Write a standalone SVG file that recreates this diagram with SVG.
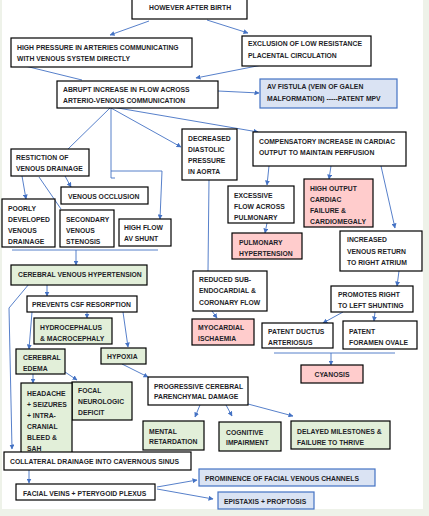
<svg xmlns="http://www.w3.org/2000/svg" width="429" height="516" viewBox="0 0 429 516">
<defs>
<marker id="ah" viewBox="0 0 10 10" refX="9" refY="5" markerWidth="5" markerHeight="5" markerUnits="userSpaceOnUse" orient="auto">
<path d="M0,0 L10,5 L0,10 z" fill="#4472c4"/>
</marker>
<style>
text{font-family:"Liberation Sans",Arial,sans-serif;font-size:6.8px;font-weight:bold;fill:#1e1e28}
.w{fill:#ffffff;stroke:#000;stroke-width:1.2}
.g{fill:#e2efd9;stroke:#000;stroke-width:1.2}
.p{fill:#ffcccc;stroke:#000;stroke-width:1.2}
.b{fill:#dae3f3;stroke:#4472c4;stroke-width:1.2}
.c{fill:none;stroke:#4472c4;stroke-width:0.9}
.a{marker-end:url(#ah)}
</style>
</defs>
<rect x="0" y="0" width="429" height="516" fill="#eef2e9"/>
<rect x="2" y="0" width="421" height="509" fill="#ffffff"/>

<g id="connectors">
<path class="c a" d="M149,21 L110,35"/>
<path class="c a" d="M207,20 L248,33"/>
<path class="c" d="M21,65 L82,80"/>
<path class="c a" d="M262,65 L196,78"/>
<path class="c a" d="M218,91 L259,93"/>
<path class="c" d="M110,108 L68,149"/>
<path class="c" d="M111,108 L111,178 L115,178"/>
<path class="c a" d="M111,171 L162,171 L160,219"/>
<path class="c a" d="M111,108 L181,147"/>
<path class="c a" d="M112,107 L258,132"/>
<path class="c a" d="M22,176 L26,199"/>
<path class="c a" d="M65,176 L71,187"/>
<path class="c" d="M39,177 L61,209"/>
<path class="c" d="M12,250 L158,250"/>
<path class="c a" d="M76,250 L76,265"/>
<path class="c" d="M209,180 L208,271"/>
<path class="c a" d="M212,311 L217,318"/>
<path class="c a" d="M269,166 L267,185"/>
<path class="c a" d="M331,166 L329,179"/>
<path class="c a" d="M381,166 L395,228"/>
<path class="c a" d="M267,223 L265,233"/>
<path class="c a" d="M399,271 L397,286"/>
<path class="c a" d="M343,312 L323,323"/>
<path class="c a" d="M375,312 L374,321"/>
<path class="c" d="M274,353 L395,353"/>
<path class="c a" d="M331,353 L331,365"/>
<path class="c a" d="M29,284 L9,308 L12,449"/>
<path class="c a" d="M47,285 L47,296"/>
<path class="c a" d="M87,312 L87,318"/>
<path class="c a" d="M32,312 L29,349"/>
<path class="c a" d="M123,312 L128,347"/>
<path class="c a" d="M122,364 L148,377"/>
<path class="c a" d="M33,374 L33,383"/>
<path class="c a" d="M65,372 L77,380"/>
<path class="c a" d="M200,405 L195,417"/>
<path class="c a" d="M226,405 L232,416"/>
<path class="c a" d="M248,404 L293,416"/>
<path class="c a" d="M29,470 L29,483"/>
<path class="c a" d="M157,487 L197,480"/>
<path class="c a" d="M157,489 L213,499"/>
</g>

<g id="n1"><rect class="w" x="132" y="-1" width="115" height="20"/><text x="149" y="9.5">HOWEVER AFTER BIRTH</text></g>
<g id="n2"><rect class="w" x="11" y="38" width="181" height="29"/><text x="17" y="49.5">HIGH PRESSURE IN ARTERIES COMMUNICATING</text><text x="17" y="60.5">WITH VENOUS SYSTEM DIRECTLY</text></g>
<g id="n3"><rect class="w" x="242" y="36" width="129" height="30"/><text x="248" y="46">EXCLUSION OF LOW RESISTANCE</text><text x="248" y="58">PLACENTAL CIRCULATION</text></g>
<g id="n4"><rect class="w" x="57" y="81" width="161" height="27"/><text x="63" y="91.5">ABRUPT INCREASE IN FLOW ACROSS</text><text x="63" y="102.5">ARTERIO-VENOUS COMMUNICATION</text></g>
<g id="n5"><rect class="b" x="260" y="79" width="137" height="29"/><text x="267" y="88.5">AV FISTULA (VEIN OF GALEN</text><text x="267" y="100.5">MALFORMATION) -----PATENT MPV</text></g>
<g id="n6"><rect class="w" x="11" y="149" width="78" height="27"/><text x="16" y="159.5">RESTICTION OF</text><text x="16" y="170.5">VENOUS DRAINAGE</text></g>
<g id="n7"><rect class="w" x="61" y="187" width="87" height="17"/><text x="68" y="198.5">VENOUS OCCLUSION</text></g>
<g id="n8"><rect class="w" x="2" y="199" width="53" height="48"/><text x="8" y="210.5">POORLY</text><text x="8" y="221.5">DEVELOPED</text><text x="8" y="232.5">VENOUS</text><text x="8" y="243.5">DRAINAGE</text></g>
<g id="n9"><rect class="w" x="60" y="210" width="54" height="37"/><text x="66" y="221.5">SECONDARY</text><text x="66" y="232.5">VENOUS</text><text x="66" y="243.5">STENOSIS</text></g>
<g id="n10"><rect class="w" x="119" y="219" width="52" height="27"/><text x="124" y="229.5">HIGH FLOW</text><text x="124" y="240.5">AV SHUNT</text></g>
<g id="n11"><rect class="w" x="182" y="129" width="55" height="51"/><text x="188" y="140.5">DECREASED</text><text x="188" y="151.5">DIASTOLIC</text><text x="188" y="162.5">PRESSURE</text><text x="188" y="173.5">IN AORTA</text></g>
<g id="n12"><rect class="w" x="253" y="132" width="153" height="34"/><text x="259" y="143.5">COMPENSATORY INCREASE IN CARDIAC</text><text x="259" y="154.5">OUTPUT TO MAINTAIN PERFUSION</text></g>
<g id="n13"><rect class="w" x="228" y="186" width="66" height="37"/><text x="234" y="197.5">EXCESSIVE</text><text x="234" y="208.5">FLOW ACROSS</text><text x="234" y="219.5">PULMONARY</text></g>
<g id="n14"><rect class="p" x="304" y="179" width="69" height="48"/><text x="310" y="190.5">HIGH OUTPUT</text><text x="310" y="201.5">CARDIAC</text><text x="310" y="212.5">FAILURE &amp;</text><text x="310" y="223.5" textLength="56" lengthAdjust="spacingAndGlyphs">CARDIOMEGALY</text></g>
<g id="n15"><rect class="p" x="232" y="233" width="70" height="26"/><text x="239" y="244.5">PULMONARY</text><text x="239" y="255.5">HYPERTENSION</text></g>
<g id="n16"><rect class="w" x="340" y="231" width="82" height="40"/><text x="347" y="242">INCREASED</text><text x="347" y="253.5">VENOUS RETURN</text><text x="347" y="265">TO RIGHT ATRIUM</text></g>
<g id="n17"><rect class="w" x="193" y="271" width="74" height="40"/><text x="199" y="281.5">REDUCED SUB-</text><text x="199" y="293">ENDOCARDIAL &amp;</text><text x="199" y="304.5">CORONARY FLOW</text></g>
<g id="n18"><rect class="p" x="192" y="319" width="62" height="26"/><text x="198" y="329.5">MYOCARDIAL</text><text x="198" y="340.5">ISCHAEMIA</text></g>
<g id="n19"><rect class="w" x="331" y="286" width="82" height="26"/><text x="338" y="296.5">PROMOTES RIGHT</text><text x="338" y="307.5">TO LEFT SHUNTING</text></g>
<g id="n20"><rect class="w" x="262" y="323" width="71" height="25"/><text x="268" y="333.5">PATENT DUCTUS</text><text x="268" y="344.5">ARTERIOSUS</text></g>
<g id="n21"><rect class="w" x="343" y="321" width="74" height="28"/><text x="349" y="333.5">PATENT</text><text x="349" y="344.5">FORAMEN OVALE</text></g>
<g id="n22"><rect class="p" x="301" y="365" width="62" height="18"/><text x="332" y="376.5" text-anchor="middle">CYANOSIS</text></g>
<g id="n23"><rect class="g" x="11" y="265" width="136" height="20"/><text x="18" y="276.5">CEREBRAL VENOUS HYPERTENSION</text></g>
<g id="n24"><rect class="w" x="27" y="296" width="110" height="16"/><text x="32" y="306.5">PREVENTS CSF RESORPTION</text></g>
<g id="n25"><rect class="g" x="34" y="318" width="78" height="26"/><text x="40" y="329.5">HYDROCEPHALUS</text><text x="40" y="340.5">&amp; MACROCEPHALY</text></g>
<g id="n26"><rect class="g" x="101" y="348" width="45" height="16"/><text x="107" y="358.5">HYPOXIA</text></g>
<g id="n27"><rect class="g" x="16" y="349" width="49" height="25"/><text x="23" y="359.5">CEREBRAL</text><text x="23" y="371">EDEMA</text></g>
<g id="n29"><rect class="g" x="72" y="382" width="60" height="38"/><text x="78" y="392.5">FOCAL</text><text x="78" y="403.5">NEUROLOGIC</text><text x="78" y="414.5">DEFICIT</text></g>
<g id="n28"><rect class="g" x="21" y="383" width="51" height="71"/><text x="27" y="395.5">HEADACHE</text><text x="27" y="406.5">+ SEIZURES</text><text x="27" y="417.5">+ INTRA-</text><text x="27" y="428.5">CRANIAL</text><text x="27" y="439.5">BLEED &amp;</text><text x="27" y="450.5">SAH</text></g>
<g id="n30"><rect class="w" x="148" y="377" width="100" height="28"/><text x="154" y="388.5">PROGRESSIVE CEREBRAL</text><text x="154" y="399">PARENCHYMAL DAMAGE</text></g>
<g id="n31"><rect class="g" x="143" y="421" width="61" height="29"/><text x="149" y="433.5">MENTAL</text><text x="149" y="444">RETARDATION</text></g>
<g id="n32"><rect class="g" x="219" y="422" width="62" height="29"/><text x="226" y="434.5">COGNITIVE</text><text x="226" y="445">IMPAIRMENT</text></g>
<g id="n33"><rect class="g" x="291" y="421" width="99" height="28"/><text x="297" y="433.5">DELAYED MILESTONES &amp;</text><text x="297" y="444.5">FAILURE TO THRIVE</text></g>
<g id="n34"><rect class="w" x="4" y="452" width="187" height="18"/><text x="10" y="463.5">COLLATERAL DRAINAGE INTO CAVERNOUS SINUS</text></g>
<g id="n35"><rect class="w" x="16" y="484" width="139" height="16"/><text x="23" y="495.5">FACIAL VEINS + PTERYGOID PLEXUS</text></g>
<g id="n36"><rect class="b" x="199" y="469" width="176" height="17"/><text x="205" y="480.5">PROMINENCE OF FACIAL VENOUS CHANNELS</text></g>
<g id="n37"><rect class="b" x="218" y="492" width="96" height="17"/><text x="224" y="503.5">EPISTAXIS + PROPTOSIS</text></g>
</svg>
